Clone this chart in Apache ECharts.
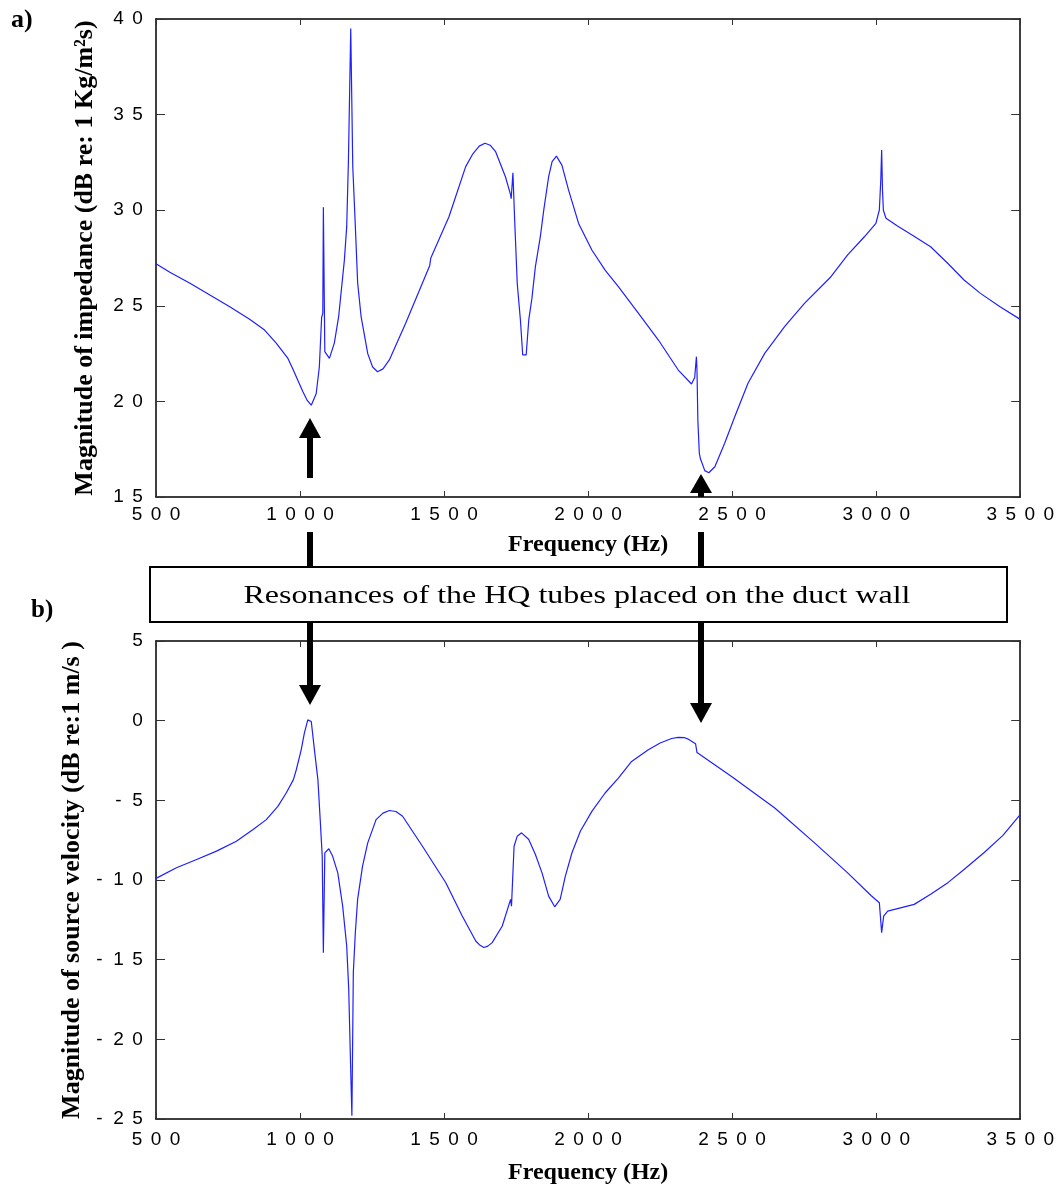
<!DOCTYPE html>
<html>
<head>
<meta charset="utf-8">
<script src="https://cdn.jsdelivr.net/npm/echarts@6/dist/echarts.min.js"></script>
<style>
html,body{margin:0;padding:0;background:#fff;}
#chart{width:1057px;height:1190px;}
</style>
</head>
<body>
<div id="chart"></div>
<script>
// ---- data ----
const xTicks = [500, 1000, 1500, 2000, 2500, 3000, 3500];
const yTicksA = [15, 20, 25, 30, 35, 40];
const yTicksB = [-25, -20, -15, -10, -5, 0, 5];

const freqA = [500, 548, 618, 687, 756, 825, 877, 918, 958, 975, 1010, 1025, 1039, 1056, 1067, 1075, 1079, 1081, 1086, 1102, 1119, 1134, 1154, 1162, 1168, 1176, 1183, 1192, 1200, 1212, 1235, 1252, 1269, 1288, 1310, 1367, 1425, 1450, 1454, 1460, 1517, 1575, 1600, 1622, 1642, 1660, 1679, 1713, 1731, 1733, 1739, 1745, 1754, 1765, 1773, 1785, 1794, 1805, 1817, 1834, 1846, 1863, 1875, 1890, 1909, 1932, 1967, 2013, 2059, 2105, 2175, 2244, 2313, 2359, 2370, 2376, 2378, 2381, 2386, 2390, 2405, 2419, 2440, 2474, 2509, 2555, 2613, 2682, 2751, 2843, 2901, 2959, 2999, 3011, 3016, 3019, 3022, 3025, 3034, 3074, 3130, 3189, 3250, 3305, 3362, 3430, 3500];
const impedanceDb = [27.2, 26.75, 26.18, 25.56, 24.95, 24.3, 23.73, 23.04, 22.25, 21.7, 20.5, 20.05, 19.8, 20.4, 21.8, 24.4, 24.6, 30.15, 22.6, 22.25, 23.05, 24.43, 27.4, 29.14, 32.6, 39.5, 32.3, 29.14, 26.2, 24.43, 22.5, 21.8, 21.55, 21.7, 22.17, 24.1, 26.19, 27.1, 27.5, 27.5, 29.66, 32.28, 32.95, 33.35, 33.5, 33.4, 33.06, 31.75, 30.8, 30.6, 31.96, 29.5, 26.17, 24.26, 22.43, 22.43, 24.26, 25.4, 27.05, 28.6, 30.0, 31.75, 32.54, 32.83, 32.36, 31.06, 29.31, 27.92, 26.87, 26.0, 24.6, 23.21, 21.64, 20.91, 21.25, 22.34, 21.6, 19.0, 17.3, 17.0, 16.38, 16.27, 16.58, 17.81, 19.2, 20.95, 22.51, 23.91, 25.13, 26.52, 27.66, 28.61, 29.31, 30.01, 31.58, 33.15, 31.0, 30.0, 29.58, 29.17, 28.65, 28.09, 27.2, 26.35, 25.65, 24.95, 24.29];

const freqB = [500, 571, 641, 710, 779, 837, 883, 923, 952, 977, 987, 1004, 1015, 1027, 1039, 1050, 1062, 1070, 1077, 1081, 1086, 1100, 1113, 1131, 1148, 1162, 1169, 1176, 1180, 1185, 1192, 1200, 1217, 1235, 1264, 1288, 1310, 1333, 1356, 1425, 1506, 1563, 1610, 1625, 1638, 1652, 1667, 1702, 1731, 1734, 1740, 1743, 1754, 1769, 1794, 1817, 1840, 1863, 1884, 1903, 1921, 1944, 1973, 2013, 2059, 2105, 2151, 2209, 2250, 2290, 2313, 2335, 2348, 2373, 2378, 2498, 2648, 2786, 2901, 2982, 3011, 3019, 3026, 3040, 3132, 3189, 3250, 3305, 3374, 3440, 3500];
const velocityDb = [-9.9, -9.23, -8.71, -8.19, -7.57, -6.83, -6.21, -5.38, -4.54, -3.7, -3.08, -1.83, -0.78, 0.05, -0.05, -1.83, -3.7, -6.21, -8.5, -14.56, -8.3, -8.04, -8.5, -9.55, -11.64, -14.14, -16.85, -22.0, -24.8, -15.8, -13.3, -11.2, -9.13, -7.67, -6.21, -5.8, -5.64, -5.7, -6.0, -7.88, -10.17, -12.26, -13.83, -14.1, -14.24, -14.15, -13.93, -12.89, -11.22, -11.64, -11.64, -7.88, -7.25, -7.04, -7.46, -8.4, -9.55, -11.01, -11.68, -11.22, -9.76, -8.29, -6.94, -5.69, -4.54, -3.6, -2.56, -1.83, -1.4, -1.12, -1.05, -1.07, -1.16, -1.45, -2.0, -3.5, -5.48, -7.67, -9.55, -10.97, -11.43, -13.3, -12.26, -11.95, -11.53, -10.9, -10.15, -9.34, -8.29, -7.2, -5.9];

const labelA = 'Magnitude of impedance (dB re: 1 Kg/m\u00B2s)';
const labelB = 'Magnitude of source velocity (dB re:1 m/s )';
const labelX = 'Frequency (Hz)';
const boxText = 'Resonances of the HQ tubes placed on the duct wall';

// ---- chart ----
const chart = echarts.init(document.getElementById('chart'), null, {renderer: 'canvas'});

const spaced = v => String(v).split('').map(c => '{d|' + c + '}').join('');
const tickRich = {d: {width: 19, align: 'center', fontSize: 19, fontFamily: 'Liberation Sans, Arial', color: '#000'}};
const yNameStyle = {fontFamily: 'Liberation Serif, Times New Roman', fontWeight: 'bold', fontSize: 26, color: '#000'};
const xNameStyle = {fontFamily: 'Liberation Serif, Times New Roman', fontWeight: 'bold', fontSize: 24, color: '#000'};
const axisLine = {show: true, onZero: false, lineStyle: {color: '#000', width: 1.5}};

function xAxes(grid, margin, gap) {
  return [
    {type: 'value', gridIndex: grid, position: 'bottom', min: xTicks[0], max: xTicks[xTicks.length - 1], interval: xTicks[1] - xTicks[0],
     axisLine: axisLine, axisTick: {inside: true, length: 6, lineStyle: {color: '#333'}},
     axisLabel: {margin: margin, formatter: spaced, rich: tickRich},
     splitLine: {show: false}, name: labelX, nameLocation: 'middle', nameGap: gap, nameTextStyle: xNameStyle},
    {type: 'value', gridIndex: grid, position: 'top', min: xTicks[0], max: xTicks[xTicks.length - 1], interval: xTicks[1] - xTicks[0],
     axisLine: axisLine, axisTick: {inside: true, length: 6, lineStyle: {color: '#333'}},
     axisLabel: {show: false}, splitLine: {show: false}}
  ];
}
function yAxes(grid, ticks, name) {
  return [
    {type: 'value', gridIndex: grid, position: 'left', min: ticks[0], max: ticks[ticks.length - 1], interval: ticks[1] - ticks[0],
     axisLine: axisLine, axisTick: {inside: true, length: 9, lineStyle: {color: '#333'}},
     axisLabel: {margin: 9, formatter: spaced, rich: tickRich},
     splitLine: {show: false}, name: name, nameLocation: 'middle', nameGap: 58, nameRotate: 90, nameTextStyle: yNameStyle},
    {type: 'value', gridIndex: grid, position: 'right', min: ticks[0], max: ticks[ticks.length - 1], interval: ticks[1] - ticks[0],
     axisLine: axisLine, axisTick: {inside: true, length: 9, lineStyle: {color: '#333'}},
     axisLabel: {show: false}, splitLine: {show: false}}
  ];
}

const toPairs = (xs, ys) => xs.map((x, i) => [x, ys[i]]);

function arrow(x, shaftTop, shaftBottom, tip, headBase) {
  const els = [];
  els.push({type: 'rect', shape: {x: x - 3, y: shaftTop, width: 6, height: shaftBottom - shaftTop}, style: {fill: '#000'}, z: 100});
  if (tip !== null) {
    els.push({type: 'polygon', shape: {points: [[x - 11, headBase], [x + 11, headBase], [x, tip]]}, style: {fill: '#000'}, z: 100});
  }
  return els;
}

const graphics = [
  {type: 'text', left: 11, top: 7, style: {text: 'a)', font: 'bold 26px "Liberation Serif"', fill: '#000'}},
  {type: 'text', left: 31, top: 598, style: {text: 'b)', font: 'bold 25px "Liberation Serif"', fill: '#000'}},
  {type: 'rect', shape: {x: 150, y: 567, width: 857, height: 55}, style: {fill: '#fff', stroke: '#000', lineWidth: 2}, z: 90},
  {type: 'text', x: 577, y: 596, scaleX: 1.23, style: {text: boxText, font: '26px "Liberation Serif"', fill: '#000', textAlign: 'center', textVerticalAlign: 'middle'}, z: 95},
  ...arrow(310, 437, 478, 418, 438),
  ...arrow(310, 532, 567, null, null),
  ...arrow(310, 623, 687, 705, 685),
  ...arrow(701, 492, 497, 474, 493),
  ...arrow(701, 532, 567, null, null),
  ...arrow(701, 623, 705, 723, 703)
];

chart.setOption({
  backgroundColor: '#fff',
  animation: false,
  grid: [
    {left: 156, top: 19, width: 867, height: 478},
    {left: 156, top: 641, width: 867, height: 478}
  ],
  xAxis: [...xAxes(0, 8, 36), ...xAxes(1, 11, 42)],
  yAxis: [...yAxes(0, yTicksA, labelA), ...yAxes(1, yTicksB, labelB)],
  series: [
    {type: 'line', xAxisIndex: 0, yAxisIndex: 0, data: toPairs(freqA, impedanceDb), showSymbol: false,
     lineStyle: {color: '#1f1fff', width: 1.2}, itemStyle: {color: '#1f1fff'}},
    {type: 'line', xAxisIndex: 2, yAxisIndex: 2, data: toPairs(freqB, velocityDb), showSymbol: false,
     lineStyle: {color: '#1f1fff', width: 1.2}, itemStyle: {color: '#1f1fff'}}
  ],
  graphic: graphics
});
</script>
</body>
</html>
